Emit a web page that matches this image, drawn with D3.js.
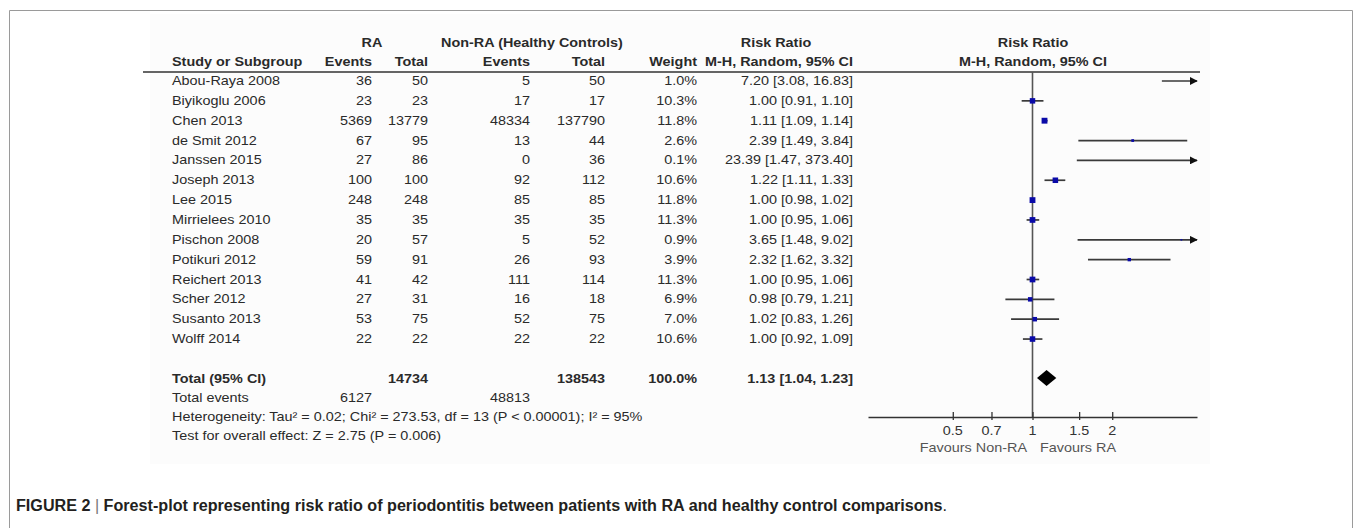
<!DOCTYPE html>
<html>
<head>
<meta charset="utf-8">
<script src="https://d3js.org/d3.v7.min.js"></script>
<style>
  body { margin: 0; background: #fff; }
  svg { display: block; font-family: "Liberation Sans", Arial, sans-serif; }
</style>
</head>
<body>
<svg width="1357" height="528"></svg>
<script>
// study data
var studies = ["Abou-Raya 2008", "Biyikoglu 2006", "Chen 2013", "de Smit 2012", "Janssen 2015",
  "Joseph 2013", "Lee 2015", "Mirrielees 2010", "Pischon 2008", "Potikuri 2012",
  "Reichert 2013", "Scher 2012", "Susanto 2013", "Wolff 2014"];
var raEvents   = [36, 23, 5369, 67, 27, 100, 248, 35, 20, 59, 41, 27, 53, 22];
var raTotal    = [50, 23, 13779, 95, 86, 100, 248, 35, 57, 91, 42, 31, 75, 22];
var ctlEvents  = [5, 17, 48334, 13, 0, 92, 85, 35, 5, 26, 111, 16, 52, 22];
var ctlTotal   = [50, 17, 137790, 44, 36, 112, 85, 35, 52, 93, 114, 18, 75, 22];
var weights    = [1.0, 10.3, 11.8, 2.6, 0.1, 10.6, 11.8, 11.3, 0.9, 3.9, 11.3, 6.9, 7.0, 10.6];
var rr         = [7.20, 1.00, 1.11, 2.39, 23.39, 1.22, 1.00, 1.00, 3.65, 2.32, 1.00, 0.98, 1.02, 1.00];
var ciLow      = [3.08, 0.91, 1.09, 1.49, 1.47, 1.11, 0.98, 0.95, 1.48, 1.62, 0.95, 0.79, 0.83, 0.92];
var ciHigh     = [16.83, 1.10, 1.14, 3.84, 373.40, 1.33, 1.02, 1.06, 9.02, 3.32, 1.06, 1.21, 1.26, 1.09];

var pooled = { rr: 1.13, lo: 1.04, hi: 1.23, raTotal: 14734, ctlTotal: 138543, weight: 100.0,
               raEvents: 6127, ctlEvents: 48813 };
var tickValues = [0.5, 0.7, 1, 1.5, 2];

var svg = d3.select("svg");
var SX = 1.2; // source image is stretched horizontally

function txt(x, y, s, anchor, bold, color, size) {
  return svg.append("text")
    .attr("transform", "translate(" + x + "," + y + ") scale(" + SX + ",1)")
    .attr("text-anchor", anchor || "start")
    .attr("font-size", size || 12)
    .attr("font-weight", bold ? "bold" : "normal")
    .attr("fill", color || "#2a2a2a")
    .text(s);
}

// frame + faint image background
svg.append("rect").attr("x", 150).attr("y", 14).attr("width", 1060).attr("height", 450)
  .attr("fill", "#fcfcfc");
svg.append("path").attr("d", "M9.5,528V10.5H1352.5V528")
  .attr("fill", "none").attr("stroke", "#9a9a9a").attr("stroke-width", 1);

// columns (right edges)
var col = { study: 172, raEv: 372, raTot: 428, cEv: 530, cTot: 605, w: 697, rr: 853 };

// rows
var y = d3.scaleLinear().domain([0, 1]).range([85, 104.85]);
var totalY = 383, eventsY = 402, hetY = 421, testY = 440;

// headers
txt(372, 47, "RA", "middle", true);
txt(532, 47, "Non-RA (Healthy Controls)", "middle", true);
txt(776, 47, "Risk Ratio", "middle", true);
txt(1033, 47, "Risk Ratio", "middle", true);
txt(col.study, 66, "Study or Subgroup", "start", true);
txt(col.raEv, 66, "Events", "end", true);
txt(col.raTot, 66, "Total", "end", true);
txt(col.cEv, 66, "Events", "end", true);
txt(col.cTot, 66, "Total", "end", true);
txt(col.w, 66, "Weight", "end", true);
txt(col.rr, 66, "M-H, Random, 95% CI", "end", true);
txt(1033, 66, "M-H, Random, 95% CI", "middle", true);
svg.append("line").attr("x1", 143).attr("x2", 1200).attr("y1", 72).attr("y2", 72)
  .attr("stroke", "#333").attr("stroke-width", 1.5);

// table body
studies.forEach(function(s, i) {
  var yy = y(i);
  txt(col.study, yy, s, "start");
  txt(col.raEv, yy, raEvents[i], "end");
  txt(col.raTot, yy, raTotal[i], "end");
  txt(col.cEv, yy, ctlEvents[i], "end");
  txt(col.cTot, yy, ctlTotal[i], "end");
  txt(col.w, yy, weights[i].toFixed(1) + "%", "end");
  txt(col.rr, yy, rr[i].toFixed(2) + " [" + ciLow[i].toFixed(2) + ", " + ciHigh[i].toFixed(2) + "]", "end");
});

txt(col.study, totalY, "Total (95% CI)", "start", true);
txt(col.raTot, totalY, pooled.raTotal, "end", true);
txt(col.cTot, totalY, pooled.ctlTotal, "end", true);
txt(col.w, totalY, pooled.weight.toFixed(1) + "%", "end", true);
txt(col.rr, totalY, pooled.rr.toFixed(2) + " [" + pooled.lo.toFixed(2) + ", " + pooled.hi.toFixed(2) + "]", "end", true);
txt(col.study, eventsY, "Total events", "start");
txt(col.raEv, eventsY, pooled.raEvents, "end");
txt(col.cEv, eventsY, pooled.ctlEvents, "end");
txt(col.study, hetY, "Heterogeneity: Tau\u00b2 = 0.02; Chi\u00b2 = 273.53, df = 13 (P < 0.00001); I\u00b2 = 95%", "start");
txt(col.study, testY, "Test for overall effect: Z = 2.75 (P = 0.006)", "start");

// forest plot
var x = d3.scaleLog().domain([1 / 4.18, 4.18]).range([868, 1197]);
var axisY = 417;
var lo = x.domain()[0], hi = x.domain()[1];

svg.append("defs").append("marker")
  .attr("id", "arr").attr("viewBox", "0 0 10 10").attr("refX", 9).attr("refY", 5)
  .attr("markerWidth", 8).attr("markerHeight", 8).attr("markerUnits", "userSpaceOnUse")
  .attr("orient", "auto")
  .append("path").attr("d", "M0,0L10,5L0,10Z").attr("fill", "#111");

// line of no effect
svg.append("line").attr("x1", x(1)).attr("x2", x(1)).attr("y1", 72).attr("y2", axisY)
  .attr("stroke", "#555").attr("stroke-width", 1.6);

var plot = svg.append("g");
studies.forEach(function(s, i) {
  var cy = y(i) - 4;
  var a = Math.max(ciLow[i], lo), b = Math.min(ciHigh[i], hi);
  var l = plot.append("line")
    .attr("x1", x(a)).attr("x2", x(b)).attr("y1", cy).attr("y2", cy)
    .attr("stroke", "#3a3a3a").attr("stroke-width", 1.7);
  if (ciHigh[i] > hi) l.attr("marker-end", "url(#arr)");
  if (rr[i] <= hi) {
    var side = Math.max(1.6, 1.7 * Math.sqrt(weights[i]));
    plot.append("rect")
      .attr("x", x(rr[i]) - side / 2).attr("y", cy - side / 2)
      .attr("width", side).attr("height", side)
      .attr("fill", "#0a0aa8");
  }
});

// pooled diamond
var dy = totalY - 5;
svg.append("path")
  .attr("d", "M" + x(pooled.lo) + "," + dy + "L" + x(pooled.rr) + "," + (dy - 8) +
    "L" + x(pooled.hi) + "," + dy + "L" + x(pooled.rr) + "," + (dy + 8) + "Z")
  .attr("fill", "#000");

// axis
var axis = svg.append("g").attr("transform", "translate(0," + axisY + ")")
  .call(d3.axisBottom(x).tickValues(tickValues).tickSizeOuter(0).tickSizeInner(3)
    .tickFormat(d3.format("")));
axis.select(".domain").attr("stroke", "#333").attr("stroke-width", 1.5);
axis.selectAll(".tick line").attr("y1", -5).attr("y2", 3).attr("stroke", "#333").attr("stroke-width", 1.3);
axis.selectAll(".tick text").remove();
tickValues.forEach(function(v) {
  txt(x(v), axisY + 18, String(v), "middle", false, "#333");
});
txt(1027, axisY + 35, "Favours Non-RA", "end", false, "#555");
txt(1040, axisY + 35, "Favours RA", "start", false, "#555");

// caption
var cap = svg.append("text").attr("x", 16).attr("y", 511)
  .attr("font-family", "'Liberation Sans Narrow', 'Arial Narrow', 'Liberation Sans', sans-serif")
  .attr("font-size", 16).attr("fill", "#231f20")
  .attr("textLength", 931).attr("lengthAdjust", "spacingAndGlyphs");
cap.append("tspan").attr("font-weight", "bold").text("FIGURE 2 ");
cap.append("tspan").attr("fill", "#777").text("| ");
cap.append("tspan").attr("font-weight", "bold")
  .text("Forest-plot representing risk ratio of periodontitis between patients with RA and healthy control comparisons");
cap.append("tspan").text(".");
</script>
</body>
</html>
